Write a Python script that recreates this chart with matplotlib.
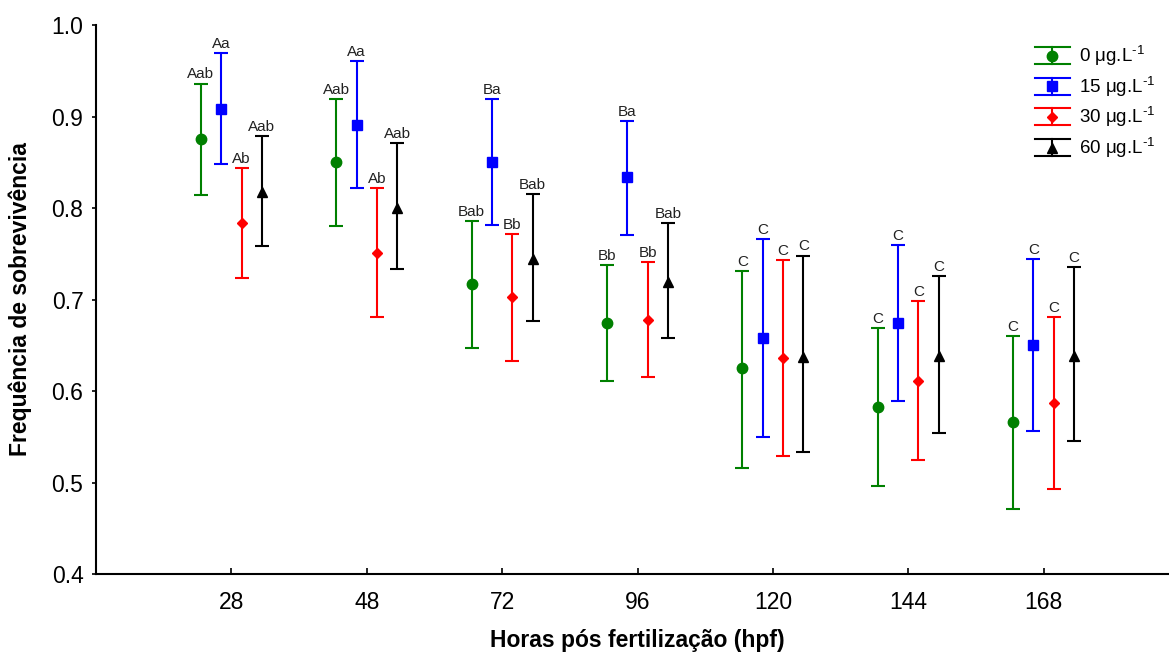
import matplotlib
matplotlib.use("Agg")
import matplotlib.pyplot as plt
import numpy as np
from matplotlib.lines import Line2D
from matplotlib.legend_handler import HandlerBase

plt.rcParams["font.family"] = ["Liberation Sans", "DejaVu Sans"]
plt.rcParams["mathtext.fontset"] = "custom"
plt.rcParams["mathtext.rm"] = "Liberation Sans"
plt.rcParams["mathtext.it"] = "Liberation Sans:italic"
plt.rcParams["mathtext.bf"] = "Liberation Sans:bold"

# Hours post fertilization (categories on the x axis)
hours = ["28", "48", "72", "96", "120", "144", "168"]

# Concentration groups
labels = [r"0 μg.L$^{\text{-}1}$", r"15 μg.L$^{\text{-}1}$",
          r"30 μg.L$^{\text{-}1}$", r"60 μg.L$^{\text{-}1}$"]
colors = ["#008000", "#0000ff", "#ff0000", "#000000"]
markers = ["o", "s", "D", "^"]
marker_sizes = [7.5, 6.5, 5.5, 7.5]

# Survival frequency: mean, upper and lower limits, significance letters
mean_0 = [0.875, 0.850, 0.717, 0.674, 0.625, 0.582, 0.566]
upper_0 = [0.936, 0.919, 0.786, 0.738, 0.731, 0.669, 0.660]
lower_0 = [0.814, 0.780, 0.647, 0.611, 0.516, 0.496, 0.471]
letters_0 = ["Aab", "Aab", "Bab", "Bb", "C", "C", "C"]

mean_15 = [0.908, 0.891, 0.850, 0.834, 0.658, 0.674, 0.650]
upper_15 = [0.969, 0.961, 0.919, 0.895, 0.766, 0.760, 0.744]
lower_15 = [0.848, 0.822, 0.781, 0.770, 0.550, 0.589, 0.556]
letters_15 = ["Aa", "Aa", "Ba", "Ba", "C", "C", "C"]

mean_30 = [0.784, 0.751, 0.703, 0.678, 0.636, 0.611, 0.587]
upper_30 = [0.844, 0.822, 0.772, 0.741, 0.743, 0.698, 0.681]
lower_30 = [0.724, 0.681, 0.633, 0.615, 0.529, 0.525, 0.493]
letters_30 = ["Ab", "Ab", "Bb", "Bb", "C", "C", "C"]

mean_60 = [0.817, 0.800, 0.744, 0.719, 0.637, 0.638, 0.638]
upper_60 = [0.879, 0.871, 0.815, 0.784, 0.748, 0.726, 0.735]
lower_60 = [0.758, 0.733, 0.676, 0.658, 0.533, 0.554, 0.545]
letters_60 = ["Aab", "Aab", "Bab", "Bab", "C", "C", "C"]

means = [mean_0, mean_15, mean_30, mean_60]
uppers = [upper_0, upper_15, upper_30, upper_60]
lowers = [lower_0, lower_15, lower_30, lower_60]
letters = [letters_0, letters_15, letters_30, letters_60]
offsets = [-0.225, -0.075, 0.075, 0.225]


class CappedBarHandler(HandlerBase):
    """Legend key: vertical bar with wide caps and the series marker."""

    def create_artists(self, legend, orig_handle, xdescent, ydescent,
                       width, height, fontsize, trans):
        c = orig_handle.get_color()
        lw = orig_handle.get_linewidth()
        x0, x1 = -xdescent, -xdescent + width
        xm = 0.5 * (x0 + x1)
        y0 = -ydescent - 0.15 * height
        y1 = -ydescent + 1.15 * height
        ym = 0.5 * (y0 + y1)
        arts = [
            Line2D([x0, x1], [y0, y0], color=c, lw=lw),
            Line2D([x0, x1], [y1, y1], color=c, lw=lw),
            Line2D([xm, xm], [y0, y1], color=c, lw=lw),
            Line2D([xm], [ym], marker=orig_handle.get_marker(),
                   markersize=orig_handle.get_markersize(), color=c,
                   markeredgecolor=c, linestyle="none"),
        ]
        for a in arts:
            a.set_transform(trans)
        return arts


fig = plt.figure(figsize=(11.69, 6.55), dpi=100)
ax = fig.add_axes([96 / 1169, 81 / 655, 1083 / 1169, 549 / 655])

x = np.arange(1, len(hours) + 1)
handles = []
for i in range(4):
    m = np.array(means[i])
    up = np.array(uppers[i])
    lo = np.array(lowers[i])
    xi = x + offsets[i]
    ax.errorbar(xi, m, yerr=[m - lo, up - m], fmt=markers[i], color=colors[i],
                ecolor=colors[i], markersize=marker_sizes[i], elinewidth=1.5,
                capsize=5, capthick=1.5, markeredgecolor=colors[i], zorder=3)
    for xx, yy, t in zip(xi, up, letters[i]):
        ax.annotate(t, (xx, yy), xytext=(0, 1.5), textcoords="offset points",
                    ha="center", va="bottom", fontsize=11, color="#222222")
    handles.append(Line2D([], [], color=colors[i], marker=markers[i],
                          markersize=marker_sizes[i], lw=1.5, label=labels[i]))

ax.set_xlim(0, 8)
ax.set_ylim(0.4, 1.0)
ax.set_xticks(x)
ax.set_xticklabels(hours)
ax.set_yticks(np.arange(0.4, 1.01, 0.1))
ax.set_yticklabels([f"{v:.1f}" for v in np.arange(0.4, 1.01, 0.1)])
ax.tick_params(axis="x", direction="in", length=4, width=1.2, pad=12,
               labelsize=16.5)
ax.tick_params(axis="y", direction="out", length=3, width=1.2, pad=6,
               labelsize=16.5)
ax.spines["top"].set_visible(False)
ax.spines["right"].set_visible(False)
for s in ("left", "bottom"):
    ax.spines[s].set_linewidth(1.5)

ax.set_xlabel("Horas pós fertilização (hpf)", fontsize=16.5, fontweight="bold",
              va="center")
ax.set_ylabel("Frequência de sobrevivência", fontsize=16.5, fontweight="bold",
              va="center")
ax.xaxis.set_label_coords((637 - 96) / 1083, (574 - 640) / 549)
ax.yaxis.set_label_coords((20 - 96) / 1083, 0.5)

leg = fig.legend(handles=handles, loc="upper left",
                 bbox_to_anchor=(1035 / 1169, 1 - 44 / 655),
                 frameon=False, fontsize=13.5, handlelength=1.85,
                 handleheight=0.7, handletextpad=0.5, labelspacing=0.35,
                 borderpad=0, borderaxespad=0,
                 handler_map={Line2D: CappedBarHandler()})

fig.savefig("out.png", dpi=100)
